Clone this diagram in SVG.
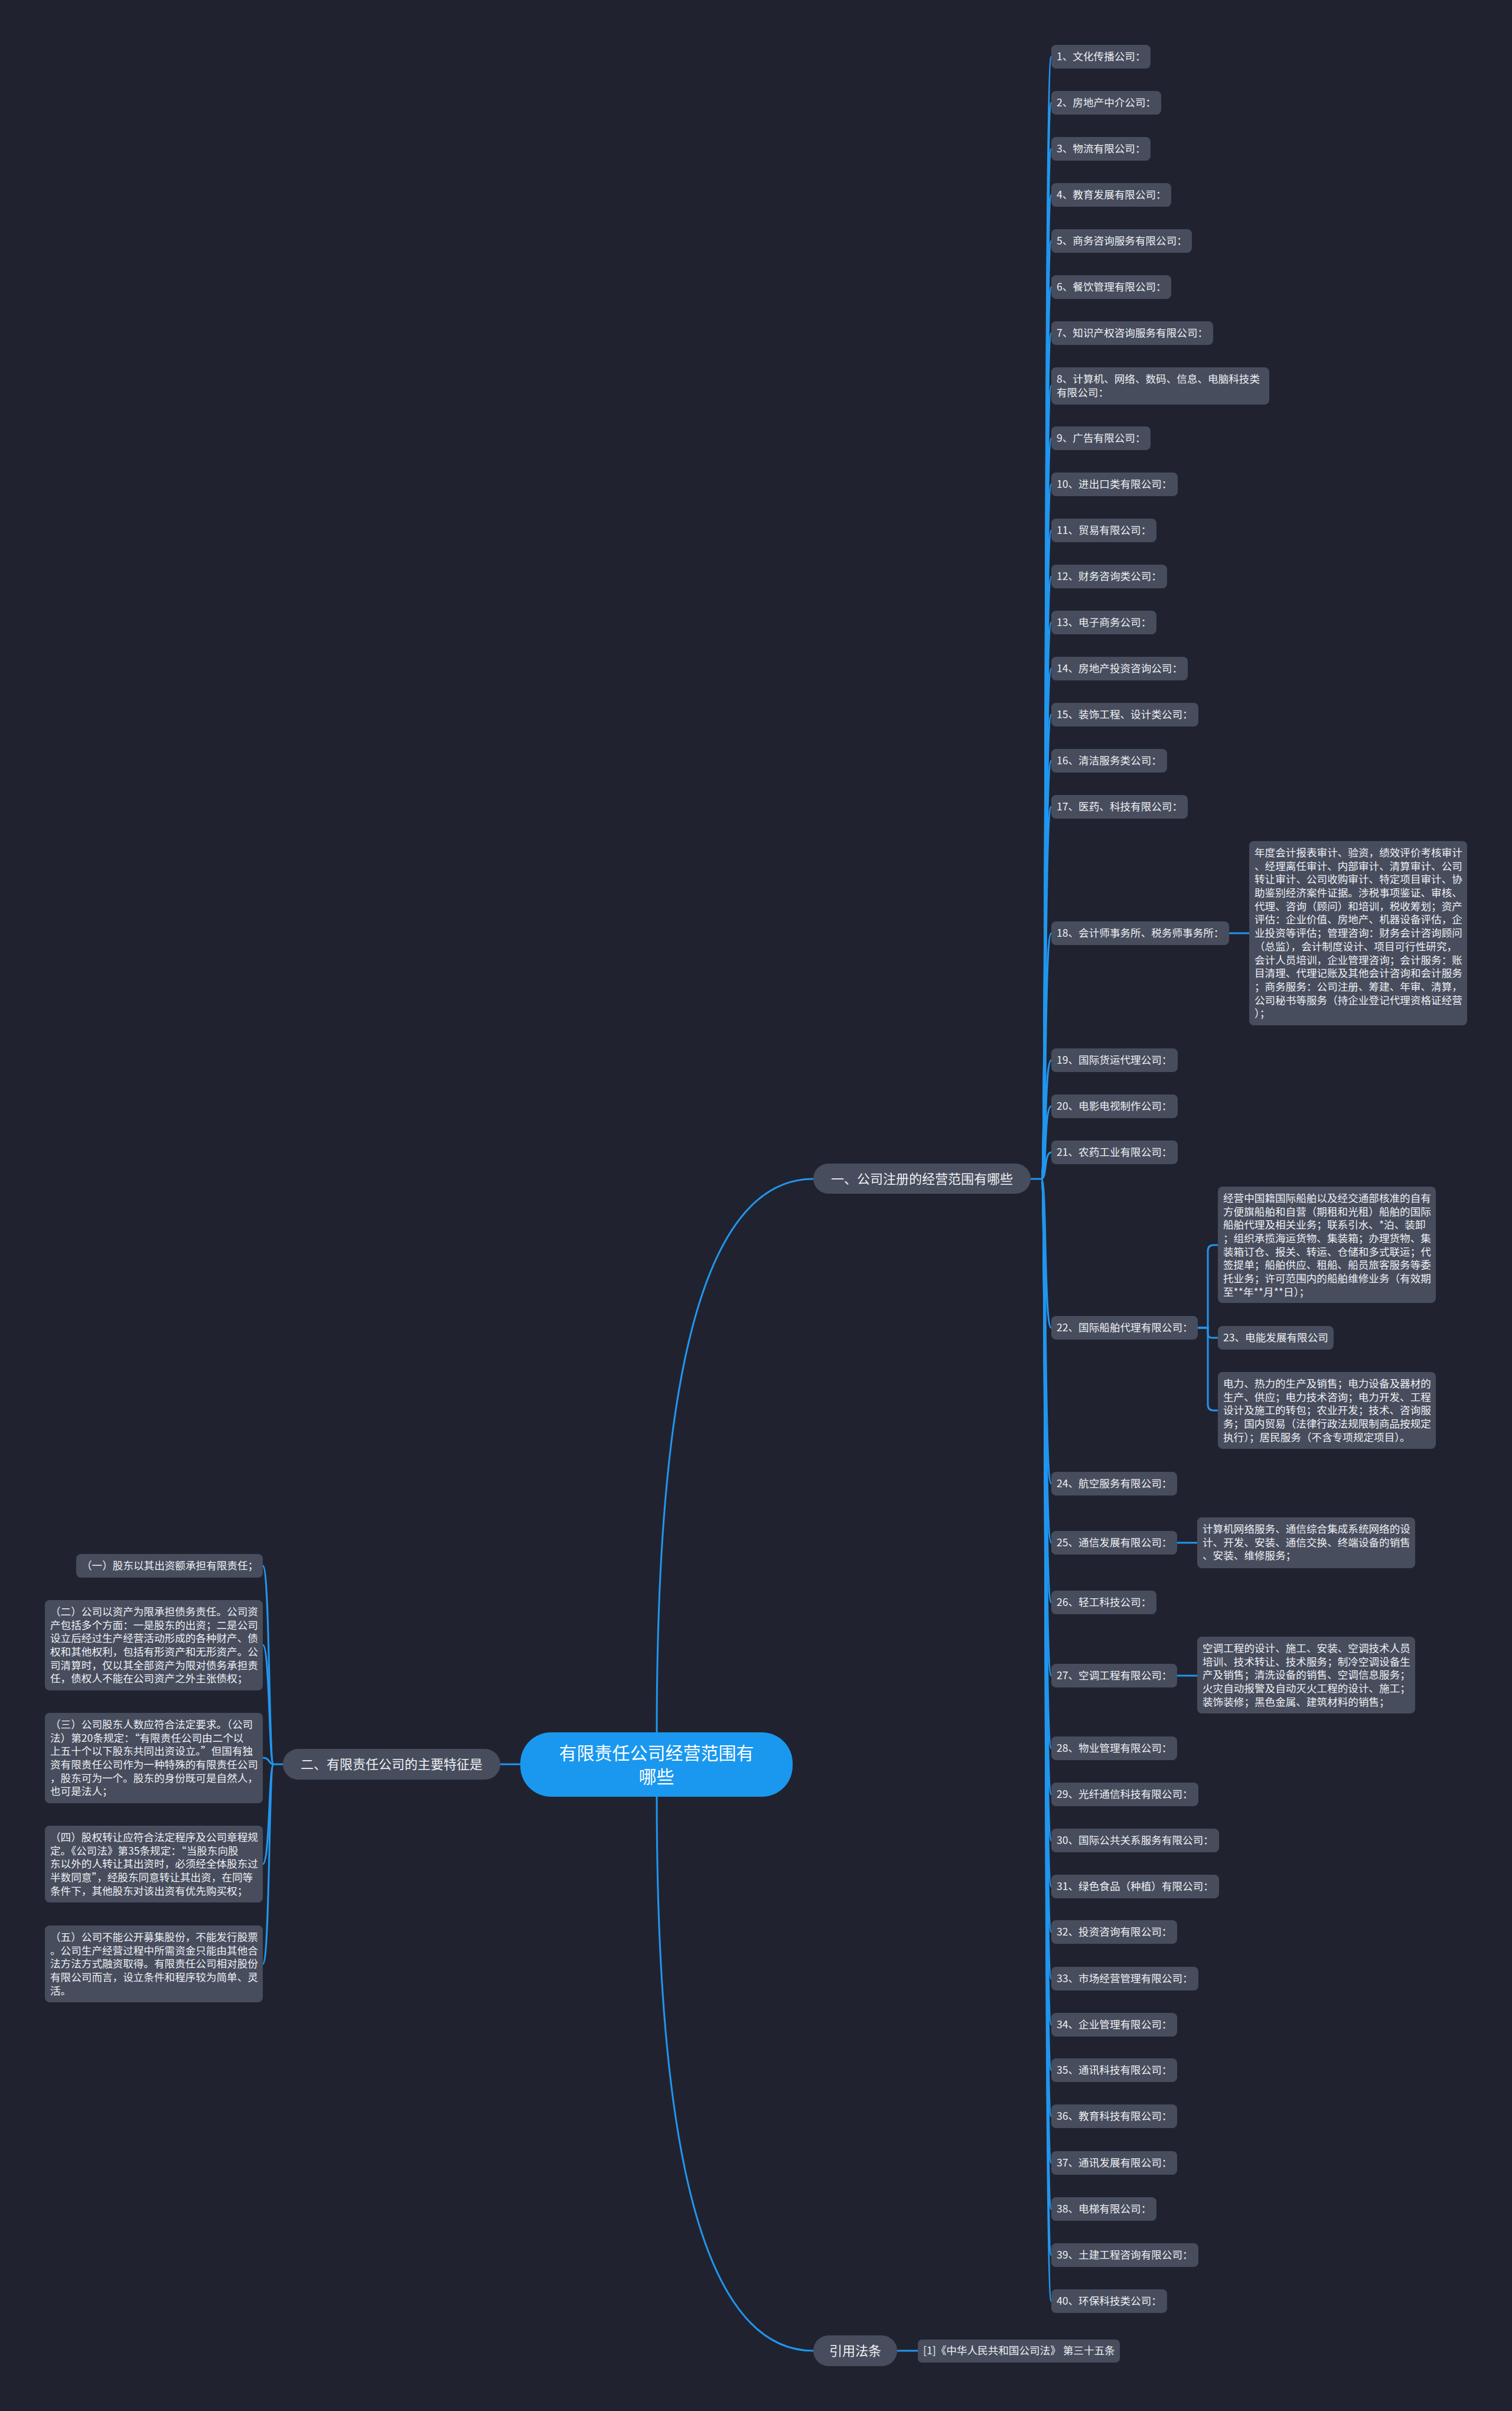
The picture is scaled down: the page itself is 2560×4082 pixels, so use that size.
<svg xmlns="http://www.w3.org/2000/svg" width="2560" height="4082" viewBox="0 0 2560 4082">
<style>
.bg{fill:#20232f}
.box{fill:#474d5d}
.t{font-family:"Noto Sans CJK SC","Noto Sans",sans-serif;font-size:17.6px;fill:#eef0f4}
.b{font-family:"Noto Sans CJK SC","Noto Sans",sans-serif;font-size:22px;fill:#eef0f4;text-anchor:middle}
.ct{font-family:"Noto Sans CJK SC","Noto Sans",sans-serif;font-size:30px;fill:#ffffff;text-anchor:middle}
#connectors path{fill:none;stroke:#2196f0;stroke-width:3}
</style>
<rect class="bg" x="0" y="0" width="2560" height="4082"/>
<g id="connectors">
<path d="M1112,2933 C1112,2500 1150,1996 1377,1996"/>
<path d="M1112,3042 C1112,3470 1150,3980 1377,3980"/>
<path d="M881,2987 H847"/>
<path d="M1519,3980 H1554"/>
<path d="M1745,1996 H1763"/>
<path d="M1763,1996 C1773,1996 1767,96 1780,96"/>
<path d="M1763,1996 C1773,1996 1767,174 1780,174"/>
<path d="M1763,1996 C1773,1996 1767,252 1780,252"/>
<path d="M1763,1996 C1773,1996 1767,330 1780,330"/>
<path d="M1763,1996 C1773,1996 1767,408 1780,408"/>
<path d="M1763,1996 C1773,1996 1767,486 1780,486"/>
<path d="M1763,1996 C1773,1996 1767,564 1780,564"/>
<path d="M1763,1996 C1773,1996 1767,653 1780,653"/>
<path d="M1763,1996 C1773,1996 1767,742 1780,742"/>
<path d="M1763,1996 C1773,1996 1767,820 1780,820"/>
<path d="M1763,1996 C1773,1996 1767,898 1780,898"/>
<path d="M1763,1996 C1773,1996 1767,976 1780,976"/>
<path d="M1763,1996 C1773,1996 1767,1054 1780,1054"/>
<path d="M1763,1996 C1773,1996 1767,1132 1780,1132"/>
<path d="M1763,1996 C1773,1996 1767,1210 1780,1210"/>
<path d="M1763,1996 C1773,1996 1767,1288 1780,1288"/>
<path d="M1763,1996 C1773,1996 1767,1366 1780,1366"/>
<path d="M1763,1996 C1773,1996 1767,1580 1780,1580"/>
<path d="M1763,1996 C1773,1996 1767,1795 1780,1795"/>
<path d="M1763,1996 C1773,1996 1767,1873 1780,1873"/>
<path d="M1763,1996 C1773,1996 1767,1951 1780,1951"/>
<path d="M1763,1996 C1773,1996 1767,2248 1780,2248"/>
<path d="M1763,1996 C1773,1996 1767,2512 1780,2512"/>
<path d="M1763,1996 C1773,1996 1767,2612 1780,2612"/>
<path d="M1763,1996 C1773,1996 1767,2713 1780,2713"/>
<path d="M1763,1996 C1773,1996 1767,2837 1780,2837"/>
<path d="M1763,1996 C1773,1996 1767,2960 1780,2960"/>
<path d="M1763,1996 C1773,1996 1767,3038 1780,3038"/>
<path d="M1763,1996 C1773,1996 1767,3116 1780,3116"/>
<path d="M1763,1996 C1773,1996 1767,3194 1780,3194"/>
<path d="M1763,1996 C1773,1996 1767,3271 1780,3271"/>
<path d="M1763,1996 C1773,1996 1767,3350 1780,3350"/>
<path d="M1763,1996 C1773,1996 1767,3428 1780,3428"/>
<path d="M1763,1996 C1773,1996 1767,3505 1780,3505"/>
<path d="M1763,1996 C1773,1996 1767,3583 1780,3583"/>
<path d="M1763,1996 C1773,1996 1767,3662 1780,3662"/>
<path d="M1763,1996 C1773,1996 1767,3740 1780,3740"/>
<path d="M1763,1996 C1773,1996 1767,3818 1780,3818"/>
<path d="M1763,1996 C1773,1996 1767,3896 1780,3896"/>
<path d="M2081,1580 H2115"/>
<path d="M1993,2612 H2027"/>
<path d="M1993,2837 H2027"/>
<path d="M2028,2248 H2045 V2118 Q2045,2108 2055,2108 H2062"/>
<path d="M2028,2248 H2045 V2258 Q2045,2265 2052,2265 H2062"/>
<path d="M2028,2248 H2045 V2378 Q2045,2388 2055,2388 H2062"/>
<path d="M479,2987 H463"/>
<path d="M463,2987 C455,2987 457,2651 445,2651"/>
<path d="M463,2987 C455,2987 457,2785 445,2785"/>
<path d="M463,2987 C455,2987 457,2976 445,2976"/>
<path d="M463,2987 C455,2987 457,3156 445,3156"/>
<path d="M463,2987 C455,2987 457,3325 445,3325"/>
</g>
<g id="root"><rect x="881" y="2933" width="461" height="109" rx="52" fill="#1a98ef"/><text class="ct" x="1111.5" y="2979">有限责任公司经营范围有</text><text class="ct" x="1111.5" y="3019">哪些</text></g>
<g id="branch1"><rect class="box" x="1377" y="1970" width="368" height="51" rx="25.5"/><text class="b" x="1561" y="2004">一、公司注册的经营范围有哪些</text></g>
<g id="branch2"><rect class="box" x="479" y="2961" width="368" height="52" rx="26"/><text class="b" x="663" y="2995">二、有限责任公司的主要特征是</text></g>
<g id="branch3"><rect class="box" x="1377" y="3954" width="142" height="52" rx="26"/><text class="b" x="1448" y="3988">引用法条</text></g>
<g id="cite"><rect class="box" x="1554" y="3961" width="342" height="39" rx="7"/><text class="t" x="1563" y="3986">[1]《中华人民共和国公司法》 第三十五条</text></g>
<g id="n1"><rect class="box" x="1780" y="76" width="168" height="40" rx="8"/><text class="t" x="1789" y="102">1、文化传播公司：</text></g>
<g id="n2"><rect class="box" x="1780" y="154" width="186" height="40" rx="8"/><text class="t" x="1789" y="180">2、房地产中介公司：</text></g>
<g id="n3"><rect class="box" x="1780" y="232" width="168" height="40" rx="8"/><text class="t" x="1789" y="258">3、物流有限公司：</text></g>
<g id="n4"><rect class="box" x="1780" y="310" width="203" height="40" rx="8"/><text class="t" x="1789" y="336">4、教育发展有限公司：</text></g>
<g id="n5"><rect class="box" x="1780" y="388" width="238" height="40" rx="8"/><text class="t" x="1789" y="414">5、商务咨询服务有限公司：</text></g>
<g id="n6"><rect class="box" x="1780" y="466" width="203" height="40" rx="8"/><text class="t" x="1789" y="492">6、餐饮管理有限公司：</text></g>
<g id="n7"><rect class="box" x="1780" y="544" width="274" height="40" rx="8"/><text class="t" x="1789" y="570">7、知识产权咨询服务有限公司：</text></g>
<g id="n8"><rect class="box" x="1780" y="622" width="369" height="63" rx="8"/><text class="t" x="1789" y="648">8、计算机、网络、数码、信息、电脑科技类</text><text class="t" x="1789" y="671">有限公司：</text></g>
<g id="n9"><rect class="box" x="1780" y="722" width="168" height="40" rx="8"/><text class="t" x="1789" y="748">9、广告有限公司：</text></g>
<g id="n10"><rect class="box" x="1780" y="800" width="214" height="40" rx="8"/><text class="t" x="1789" y="826">10、进出口类有限公司：</text></g>
<g id="n11"><rect class="box" x="1780" y="878" width="178" height="40" rx="8"/><text class="t" x="1789" y="904">11、贸易有限公司：</text></g>
<g id="n12"><rect class="box" x="1780" y="956" width="196" height="40" rx="8"/><text class="t" x="1789" y="982">12、财务咨询类公司：</text></g>
<g id="n13"><rect class="box" x="1780" y="1034" width="178" height="40" rx="8"/><text class="t" x="1789" y="1060">13、电子商务公司：</text></g>
<g id="n14"><rect class="box" x="1780" y="1112" width="231" height="40" rx="8"/><text class="t" x="1789" y="1138">14、房地产投资咨询公司：</text></g>
<g id="n15"><rect class="box" x="1780" y="1190" width="249" height="40" rx="8"/><text class="t" x="1789" y="1216">15、装饰工程、设计类公司：</text></g>
<g id="n16"><rect class="box" x="1780" y="1268" width="196" height="40" rx="8"/><text class="t" x="1789" y="1294">16、清洁服务类公司：</text></g>
<g id="n17"><rect class="box" x="1780" y="1346" width="231" height="40" rx="8"/><text class="t" x="1789" y="1372">17、医药、科技有限公司：</text></g>
<g id="n18"><rect class="box" x="1780" y="1560" width="301" height="40" rx="8"/><text class="t" x="1789" y="1586">18、会计师事务所、税务师事务所：</text></g>
<g id="n18d"><rect class="box" x="2115" y="1424" width="369" height="312" rx="8"/>
<text class="t" x="2124" y="1450">年度会计报表审计、验资，绩效评价考核审计</text>
<text class="t" x="2124" y="1473">、经理离任审计、内部审计、清算审计、公司</text>
<text class="t" x="2124" y="1495">转让审计、公司收购审计、特定项目审计、协</text>
<text class="t" x="2124" y="1518">助鉴别经济案件证据。涉税事项鉴证、审核、</text>
<text class="t" x="2124" y="1541">代理、咨询（顾问）和培训，税收筹划；资产</text>
<text class="t" x="2124" y="1563">评估：企业价值、房地产、机器设备评估，企</text>
<text class="t" x="2124" y="1586">业投资等评估；管理咨询：财务会计咨询顾问</text>
<text class="t" x="2124" y="1609">（总监），会计制度设计、项目可行性研究，</text>
<text class="t" x="2124" y="1632">会计人员培训，企业管理咨询；会计服务：账</text>
<text class="t" x="2124" y="1654">目清理、代理记账及其他会计咨询和会计服务</text>
<text class="t" x="2124" y="1677">；商务服务：公司注册、筹建、年审、清算，</text>
<text class="t" x="2124" y="1700">公司秘书等服务（持企业登记代理资格证经营</text>
<text class="t" x="2124" y="1722">）；</text></g>
<g id="n19"><rect class="box" x="1780" y="1775" width="214" height="40" rx="8"/><text class="t" x="1789" y="1801">19、国际货运代理公司：</text></g>
<g id="n20"><rect class="box" x="1780" y="1853" width="214" height="40" rx="8"/><text class="t" x="1789" y="1879">20、电影电视制作公司：</text></g>
<g id="n21"><rect class="box" x="1780" y="1931" width="214" height="40" rx="8"/><text class="t" x="1789" y="1957">21、农药工业有限公司：</text></g>
<g id="n22"><rect class="box" x="1780" y="2228" width="248" height="40" rx="8"/><text class="t" x="1789" y="2254">22、国际船舶代理有限公司：</text></g>
<g id="n22a"><rect class="box" x="2062" y="2009" width="369" height="197" rx="8"/>
<text class="t" x="2071" y="2035">经营中国籍国际船舶以及经交通部核准的自有</text>
<text class="t" x="2071" y="2058">方便旗船舶和自营（期租和光租）船舶的国际</text>
<text class="t" x="2071" y="2080">船舶代理及相关业务；联系引水、*泊、装卸</text>
<text class="t" x="2071" y="2103">；组织承揽海运货物、集装箱；办理货物、集</text>
<text class="t" x="2071" y="2126">装箱订仓、报关、转运、仓储和多式联运；代</text>
<text class="t" x="2071" y="2148">签提单；船舶供应、租船、船员旅客服务等委</text>
<text class="t" x="2071" y="2171">托业务；许可范围内的船舶维修业务（有效期</text>
<text class="t" x="2071" y="2194">至**年**月**日）；</text></g>
<g id="n23"><rect class="box" x="2062" y="2245" width="196" height="40" rx="8"/><text class="t" x="2071" y="2271">23、电能发展有限公司</text></g>
<g id="n22b"><rect class="box" x="2062" y="2323" width="369" height="130" rx="8"/>
<text class="t" x="2071" y="2349">电力、热力的生产及销售；电力设备及器材的</text>
<text class="t" x="2071" y="2372">生产、供应；电力技术咨询；电力开发、工程</text>
<text class="t" x="2071" y="2394">设计及施工的转包；农业开发；技术、咨询服</text>
<text class="t" x="2071" y="2417">务；国内贸易（法律行政法规限制商品按规定</text>
<text class="t" x="2071" y="2440">执行）；居民服务（不含专项规定项目）。</text></g>
<g id="n24"><rect class="box" x="1780" y="2492" width="213" height="40" rx="8"/><text class="t" x="1789" y="2518">24、航空服务有限公司：</text></g>
<g id="n25"><rect class="box" x="1780" y="2592" width="213" height="40" rx="8"/><text class="t" x="1789" y="2618">25、通信发展有限公司：</text></g>
<g id="n25d"><rect class="box" x="2027" y="2569" width="369" height="86" rx="8"/>
<text class="t" x="2036" y="2595">计算机网络服务、通信综合集成系统网络的设</text>
<text class="t" x="2036" y="2618">计、开发、安装、通信交换、终端设备的销售</text>
<text class="t" x="2036" y="2640">、安装、维修服务；</text></g>
<g id="n26"><rect class="box" x="1780" y="2693" width="178" height="40" rx="8"/><text class="t" x="1789" y="2719">26、轻工科技公司：</text></g>
<g id="n27"><rect class="box" x="1780" y="2817" width="213" height="40" rx="8"/><text class="t" x="1789" y="2843">27、空调工程有限公司：</text></g>
<g id="n27d"><rect class="box" x="2027" y="2771" width="369" height="130" rx="8"/>
<text class="t" x="2036" y="2797">空调工程的设计、施工、安装、空调技术人员</text>
<text class="t" x="2036" y="2820">培训、技术转让、技术服务；制冷空调设备生</text>
<text class="t" x="2036" y="2842">产及销售；清洗设备的销售、空调信息服务；</text>
<text class="t" x="2036" y="2865">火灾自动报警及自动灭火工程的设计、施工；</text>
<text class="t" x="2036" y="2888">装饰装修；黑色金属、建筑材料的销售；</text></g>
<g id="n28"><rect class="box" x="1780" y="2940" width="213" height="40" rx="8"/><text class="t" x="1789" y="2966">28、物业管理有限公司：</text></g>
<g id="n29"><rect class="box" x="1780" y="3018" width="249" height="40" rx="8"/><text class="t" x="1789" y="3044">29、光纤通信科技有限公司：</text></g>
<g id="n30"><rect class="box" x="1780" y="3096" width="284" height="40" rx="8"/><text class="t" x="1789" y="3122">30、国际公共关系服务有限公司：</text></g>
<g id="n31"><rect class="box" x="1780" y="3174" width="284" height="40" rx="8"/><text class="t" x="1789" y="3200">31、绿色食品（种植）有限公司：</text></g>
<g id="n32"><rect class="box" x="1780" y="3251" width="213" height="40" rx="8"/><text class="t" x="1789" y="3277">32、投资咨询有限公司：</text></g>
<g id="n33"><rect class="box" x="1780" y="3330" width="249" height="40" rx="8"/><text class="t" x="1789" y="3356">33、市场经营管理有限公司：</text></g>
<g id="n34"><rect class="box" x="1780" y="3408" width="213" height="40" rx="8"/><text class="t" x="1789" y="3434">34、企业管理有限公司：</text></g>
<g id="n35"><rect class="box" x="1780" y="3485" width="213" height="40" rx="8"/><text class="t" x="1789" y="3511">35、通讯科技有限公司：</text></g>
<g id="n36"><rect class="box" x="1780" y="3563" width="213" height="40" rx="8"/><text class="t" x="1789" y="3589">36、教育科技有限公司：</text></g>
<g id="n37"><rect class="box" x="1780" y="3642" width="213" height="40" rx="8"/><text class="t" x="1789" y="3668">37、通讯发展有限公司：</text></g>
<g id="n38"><rect class="box" x="1780" y="3720" width="178" height="40" rx="8"/><text class="t" x="1789" y="3746">38、电梯有限公司：</text></g>
<g id="n39"><rect class="box" x="1780" y="3798" width="249" height="40" rx="8"/><text class="t" x="1789" y="3824">39、土建工程咨询有限公司：</text></g>
<g id="n40"><rect class="box" x="1780" y="3876" width="196" height="40" rx="8"/><text class="t" x="1789" y="3902">40、环保科技类公司：</text></g>
<g id="l1"><rect class="box" x="129" y="2631" width="316" height="40" rx="8"/><text class="t" x="138" y="2657">（一）股东以其出资额承担有限责任；</text></g>
<g id="l2"><rect class="box" x="76" y="2709" width="369" height="153" rx="8"/>
<text class="t" x="85" y="2735">（二）公司以资产为限承担债务责任。公司资</text>
<text class="t" x="85" y="2758">产包括多个方面：一是股东的出资；二是公司</text>
<text class="t" x="85" y="2780">设立后经过生产经营活动形成的各种财产、债</text>
<text class="t" x="85" y="2803">权和其他权利，包括有形资产和无形资产。公</text>
<text class="t" x="85" y="2826">司清算时，仅以其全部资产为限对债务承担责</text>
<text class="t" x="85" y="2848">任，债权人不能在公司资产之外主张债权；</text></g>
<g id="l3"><rect class="box" x="76" y="2900" width="369" height="153" rx="8"/>
<text class="t" x="85" y="2926">（三）公司股东人数应符合法定要求。（公司</text>
<text class="t" x="85" y="2949">法）第20条规定：“有限责任公司由二个以</text>
<text class="t" x="85" y="2971">上五十个以下股东共同出资设立。”但国有独</text>
<text class="t" x="85" y="2994">资有限责任公司作为一种特殊的有限责任公司</text>
<text class="t" x="85" y="3017">，股东可为一个。股东的身份既可是自然人，</text>
<text class="t" x="85" y="3039">也可是法人；</text></g>
<g id="l4"><rect class="box" x="76" y="3091" width="369" height="130" rx="8"/>
<text class="t" x="85" y="3117">（四）股权转让应符合法定程序及公司章程规</text>
<text class="t" x="85" y="3140">定。《公司法》第35条规定：“当股东向股</text>
<text class="t" x="85" y="3162">东以外的人转让其出资时，必须经全体股东过</text>
<text class="t" x="85" y="3185">半数同意”，经股东同意转让其出资，在同等</text>
<text class="t" x="85" y="3208">条件下，其他股东对该出资有优先购买权；</text></g>
<g id="l5"><rect class="box" x="76" y="3260" width="369" height="130" rx="8"/>
<text class="t" x="85" y="3286">（五）公司不能公开募集股份，不能发行股票</text>
<text class="t" x="85" y="3309">。公司生产经营过程中所需资金只能由其他合</text>
<text class="t" x="85" y="3331">法方法方式融资取得。有限责任公司相对股份</text>
<text class="t" x="85" y="3354">有限公司而言，设立条件和程序较为简单、灵</text>
<text class="t" x="85" y="3377">活。</text></g>
</svg>
